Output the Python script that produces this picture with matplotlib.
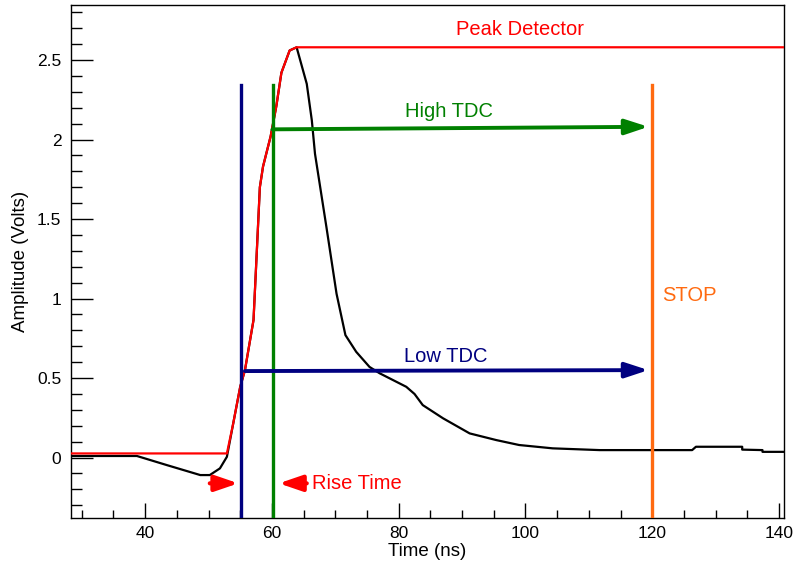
"""
Peak detector / TDC timing picture (signal vs. time).
Values are read off the reference scope trace by eye.
"""
import matplotlib
matplotlib.use("Agg")
import matplotlib.pyplot as plt
from matplotlib.ticker import MultipleLocator

plt.rcParams["font.family"] = ["Liberation Sans", "DejaVu Sans"]

RED = "#ff0000"
NAVY = "#000080"
GREEN = "#008000"
ORANGE = "#ff6a10"

# rising edge (shared by the pulse and the peak detector output)
rise_t = [52.9, 53.9, 55.0, 55.75, 57.1, 57.6, 58.1, 58.6, 59.8, 60.7, 61.5, 62.8, 63.9]
rise_v = [0.026, 0.215, 0.445, 0.55, 0.865, 1.28, 1.70, 1.83, 2.02, 2.21, 2.42, 2.56, 2.58]

# pulse before the edge
pre_t = [28.3, 38.7, 43.4, 48.7, 50.2, 51.8, 52.9]
pre_v = [0.01, 0.01, -0.047, -0.11, -0.11, -0.068, 0.005]

# pulse after the peak
fall_t = [65.5, 66.3, 66.8, 68.6, 70.2, 71.6, 73.3, 75.4, 77.0, 81.2, 82.5, 83.8,
          87.0, 91.2, 95.4, 99.0, 104.3, 111.7, 126.3, 126.9, 134.2, 134.2,
          137.4, 137.4, 141.0]
fall_v = [2.35, 2.12, 1.91, 1.45, 1.03, 0.77, 0.665, 0.57, 0.53, 0.445, 0.40, 0.33,
          0.247, 0.152, 0.11, 0.079, 0.058, 0.047, 0.047, 0.068, 0.068, 0.05,
          0.047, 0.036, 0.036]

baseline_pd = 0.026     # peak detector level before the edge
peak_pd = 2.58          # held peak

low_tdc_t = 55.2
high_tdc_t = 60.1
stop_t = 120.0
marker_top = 2.34

low_arrow = (55.75, 0.544, 119.4, 0.55)     # t0, v0, t1, v1
high_arrow = (60.1, 2.064, 119.4, 2.08)
rise_y = -0.162
rise_left = (50.2, 54.7)    # tail, tip
rise_right = (65.5, 61.1)   # tail, tip

xlim = (28.3, 140.8)
ylim = (-0.38, 2.846)

fig = plt.figure(figsize=(7.93, 5.66), dpi=100)
ax = fig.add_axes([0.0895, 0.0848, 0.8992, 0.9064])

pulse_t = pre_t + rise_t[1:] + fall_t
pulse_v = pre_v + rise_v[1:] + fall_v
ax.plot(pulse_t, pulse_v, color="black", lw=1.6, zorder=2)

pd_t = [xlim[0]] + rise_t + [xlim[1]]
pd_v = [baseline_pd] + rise_v + [peak_pd]
ax.plot(pd_t, pd_v, color=RED, lw=1.6, zorder=3)

for t, c in [(low_tdc_t, NAVY), (high_tdc_t, GREEN), (stop_t, ORANGE)]:
    ax.plot([t, t], [ylim[0], marker_top], color=c, lw=2.4, zorder=4)


def arrow(x0, y0, x1, y1, color, hl=14, hw=4.6, lw=2.8):
    ax.annotate("", xy=(x1, y1), xytext=(x0, y0), zorder=5,
                arrowprops=dict(arrowstyle=f"-|>,head_length={hl},head_width={hw}",
                                mutation_scale=1, lw=lw, color=color,
                                shrinkA=0, shrinkB=0))


arrow(*high_arrow, GREEN)
arrow(*low_arrow, NAVY)
arrow(rise_left[0], rise_y, rise_left[1], rise_y, RED, hl=14, hw=4.8, lw=3)
arrow(rise_right[0], rise_y, rise_right[1], rise_y, RED, hl=14, hw=4.8, lw=3)

ax.text(99.2, 2.69, "Peak Detector", color=RED, fontsize=14.5, ha="center", va="center")
ax.text(87.9, 2.175, "High TDC", color=GREEN, fontsize=14.5, ha="center", va="center")
ax.text(87.5, 0.634, "Low TDC", color=NAVY, fontsize=14.5, ha="center", va="center")
ax.text(121.6, 1.02, "STOP", color=ORANGE, fontsize=14.5, ha="left", va="center")
ax.text(66.4, rise_y, "Rise Time", color=RED, fontsize=14.5, ha="left", va="center")

ax.set_xlim(*xlim)
ax.set_ylim(*ylim)
ax.xaxis.set_major_locator(MultipleLocator(20))
ax.xaxis.set_minor_locator(MultipleLocator(5))
ax.yaxis.set_major_locator(MultipleLocator(0.5))
ax.yaxis.set_minor_locator(MultipleLocator(0.1))
ax.yaxis.set_major_formatter(plt.FuncFormatter(lambda v, p: f"{v:g}"))
ax.tick_params(axis="both", which="both", direction="in", top=False, right=False,
               labelsize=12.5, width=1)
ax.tick_params(axis="x", which="major", length=11, pad=6)
ax.tick_params(axis="x", which="minor", length=5.5)
ax.tick_params(axis="y", which="major", length=16, pad=7)
ax.tick_params(axis="y", which="minor", length=8)
for s in ax.spines.values():
    s.set_linewidth(1)

ax.set_xlabel("Time (ns)", fontsize=13.5, labelpad=1)
ax.set_ylabel("Amplitude (Volts)", fontsize=13.5, labelpad=6)

fig.savefig("out.png", dpi=100)
